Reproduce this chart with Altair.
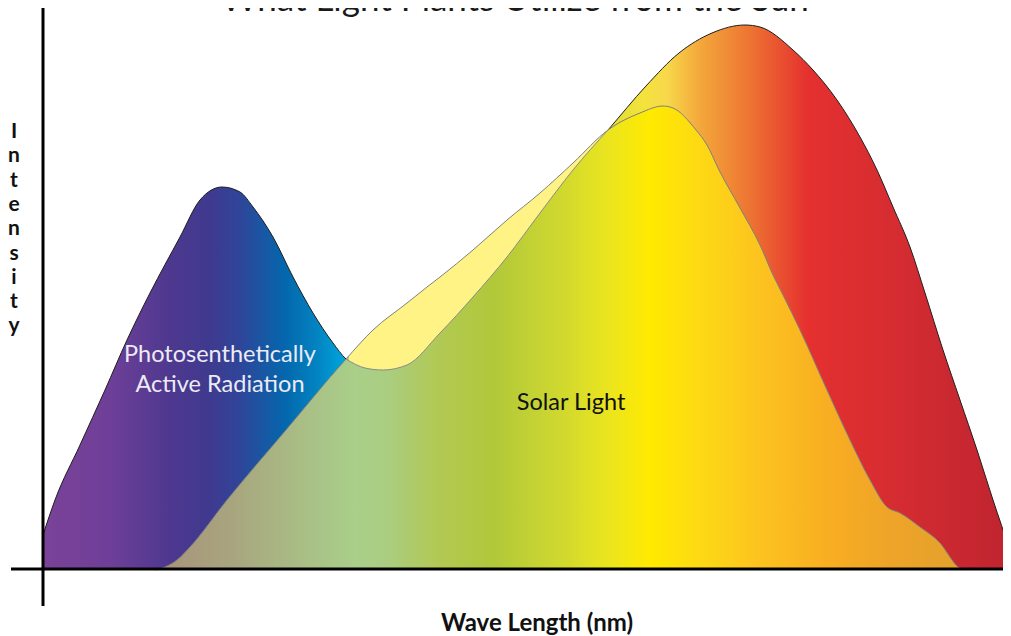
import altair as alt
import pandas as pd

# ---- data (relative wavelength 0..967, relative intensity 0..562) ----
# Photosynthetically Active Radiation curve
par_x = [0, 12, 37, 62, 84, 107, 137, 157, 179, 197, 210, 230, 250, 270, 290, 303, 322, 340,
         364, 397, 430, 464, 497, 530, 565, 603, 636, 669, 702, 717, 750, 770, 794, 817, 834,
         850, 867, 882, 900, 917, 934, 950, 967]
par_y = [35, 70, 125, 180, 230, 277, 333, 370, 383, 378, 363, 333, 293, 257, 227, 211, 202, 200,
         205, 237, 273, 313, 357, 400, 440, 484, 517, 537, 545, 543, 520, 500, 470, 433, 400,
         363, 323, 277, 220, 170, 120, 70, 20]

# Solar light curve
solar_x = [112, 122, 134, 147, 184, 243, 303, 330, 364, 384, 397, 430, 464, 497, 530, 565, 597,
           620, 630, 653, 664, 676, 697, 717, 730, 740, 757, 784, 807, 827, 844, 857, 877, 897,
           914, 919]
solar_y = [0, 3, 10, 23, 70, 140, 211, 240, 267, 283, 293, 320, 350, 377, 407, 440, 457,
           464, 462, 440, 425, 400, 362, 325, 295, 275, 240, 180, 130, 90, 63, 57, 43, 27,
           4, 0]

# where the two curves cross
cross_x = [303, 565]

title_text = "What Light Plants Utilize from the Sun"
x_title = "Wave Length (nm)"
y_title = "Intensity"
par_label = "Photosenthetically\nActive Radiation"
solar_label = "Solar Light"

# ---- styling: colour stops along the wavelength axis ----
par_stops = [(0, "#7b4299"), (67, "#6e3f98"), (127, "#4e388f"), (167, "#3f3a8f"),
             (197, "#2f4599"), (242, "#0467ad"), (272, "#0381c0"), (300, "#00a3da"),
             (561, "#dedb2e"), (600, "#f3e33d"), (624, "#f8d84a"), (657, "#f3a83b"),
             (707, "#ed7432"), (765, "#e5302f"), (842, "#d72d31"), (967, "#bf2430")]
solar_stops = [(112, "#a8937a"), (187, "#a8a47e"), (257, "#a9bd85"), (312, "#a9cf89"),
               (345, "#aacd80"), (393, "#b1c955"), (450, "#b1c83a"), (517, "#cfd82f"),
               (567, "#ece51e"), (607, "#ffea00"), (657, "#fdd915"), (717, "#fcc31f"),
               (787, "#f8ad22"), (847, "#eea428"), (919, "#e3a12d")]
pale = "#fff385"


def color_at(stops, p):
    for (p0, c0), (p1, c1) in zip(stops, stops[1:]):
        if p0 <= p <= p1:
            t = (p - p0) / (p1 - p0)
            a = [int(c0[i:i + 2], 16) for i in (1, 3, 5)]
            b = [int(c1[i:i + 2], 16) for i in (1, 3, 5)]
            return "#" + "".join(f"{round(u + (v - u) * t):02x}" for u, v in zip(a, b))
    return stops[-1][1]


def gradient(stops, box_lo, box_hi):
    lo, hi = stops[0][0], stops[-1][0]
    w = box_hi - box_lo
    return {
        "gradient": "linear",
        "stops": [{"offset": (p - lo) / (hi - lo), "color": c} for p, c in stops],
        "x1": (lo - box_lo) / w, "x2": (hi - box_lo) / w, "y1": 0, "y2": 0,
    }


# solar gradient with a pale band where the solar curve rises above the PAR curve
band_lo, band_hi = cross_x[0] + 3, cross_x[1] - 3
solar_band_stops = (
    [s for s in solar_stops if s[0] < band_lo]
    + [(band_lo, color_at(solar_stops, band_lo)), (band_lo, pale),
       (band_hi, pale), (band_hi, color_at(solar_stops, band_hi))]
    + [s for s in solar_stops if s[0] > band_hi]
)

par_df = pd.DataFrame({"x": par_x, "y": par_y})
solar_df = pd.DataFrame({"x": solar_x, "y": solar_y})
between = f"datum.x >= {cross_x[0]} && datum.x <= {cross_x[1]}"

# plot area is 959 px wide on the page box, the drawing runs slightly past it to the edge
xs = alt.Scale(domain=[0, 967], range=[0, 967], nice=False, zero=False)
ys = alt.Scale(domain=[0, 562], nice=False, zero=False)
X = alt.X("x:Q", scale=xs, axis=None)
Y = alt.Y("y:Q", scale=ys, axis=None)

par_area = alt.Chart(par_df).mark_area(
    interpolate="monotone", color=gradient(par_stops, 0, 967)
).encode(x=X, y=Y)
par_line = alt.Chart(par_df).mark_line(
    interpolate="monotone", color="#1e1e1e", strokeWidth=1.0
).encode(x=X, y=Y)
solar_area = alt.Chart(solar_df).mark_area(
    interpolate="monotone", color=gradient(solar_band_stops, 112, 919)
).encode(x=X, y=Y)
dip_area = alt.Chart(par_df).transform_filter(between).mark_area(
    interpolate="monotone", color=gradient(solar_stops, cross_x[0], cross_x[1])
).encode(x=X, y=Y)
solar_line = alt.Chart(solar_df).mark_line(
    interpolate="monotone", color="#7f7f7f", strokeWidth=1.0
).encode(x=X, y=Y)
dip_line = alt.Chart(par_df).transform_filter(between).mark_line(
    interpolate="monotone", color="#8a8a8a", strokeWidth=1.0
).encode(x=X, y=Y)

one = pd.DataFrame({"k": [0]})
v_axis = alt.Chart(one).mark_rule(color="black", strokeWidth=3).encode(
    x=alt.value(0), y=alt.value(0), y2=alt.value(598))
h_axis = alt.Chart(one).mark_rule(color="black", strokeWidth=3).encode(
    y=alt.value(561), x=alt.value(-32), x2=alt.value(968))


def label(text, x, y, size, color, weight="normal", align="center", line_height=None):
    kw = dict(font="Lato", fontSize=size, color=color, fontWeight=weight, align=align,
              baseline="alphabetic", lineBreak="\n")
    if line_height:
        kw["lineHeight"] = line_height
    return alt.Chart(pd.DataFrame({"t": [text]})).mark_text(**kw).encode(
        text="t:N", x=alt.value(x), y=alt.value(y))


title = label(title_text, 472, 3, 35, "#1a1a1a")
xlab = label(x_title, 494, 623, 24, "#111111", weight="bold")
ylab = label("\n".join(list(y_title)), -29, 130, 21, "#111111", weight="bold", line_height=24.3)
par_txt = label(par_label, 177, 354, 23.5, "#ecebf5", line_height=30)
solar_txt = label(solar_label, 528, 402, 23.5, "#111111")

chart = alt.layer(
    par_area, par_line, solar_area, dip_area, solar_line, dip_line,
    v_axis, h_axis, par_txt, solar_txt, title, xlab, ylab
).properties(
    width=959, height=562,
    autosize=alt.AutoSizeParams(type="none"),
    padding={"left": 35, "top": 0, "right": 1, "bottom": 66},
    background="white",
).configure_view(stroke=None)

chart.save("out.html", embed_options={"renderer": "svg", "actions": False})
